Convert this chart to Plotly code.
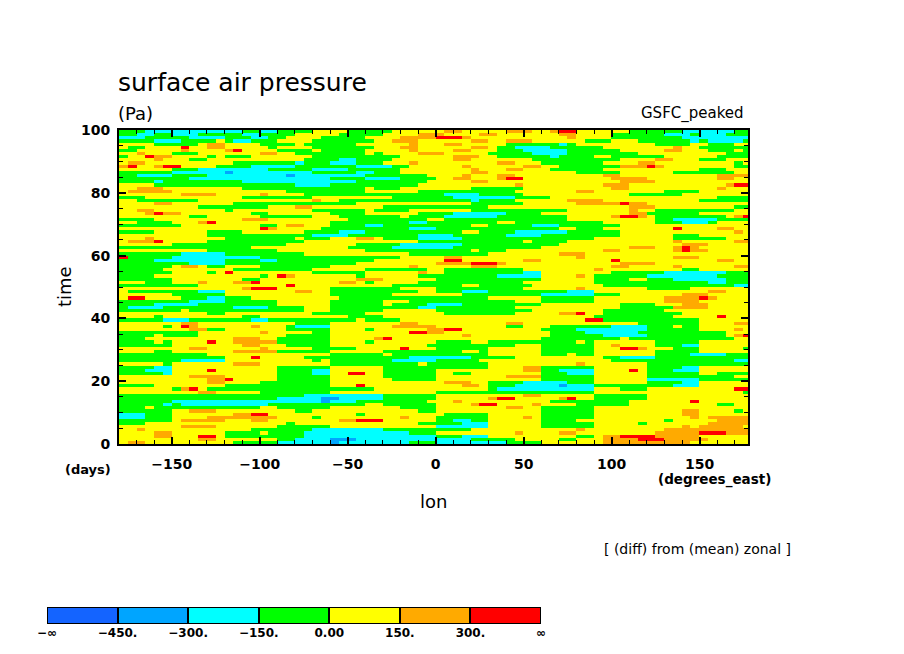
import plotly.graph_objects as go

# Binned surface-pressure anomaly (diff from zonal mean), one string per time row,
# listed from the top of the picture (t=99.5 days) down to t=0.5 days.
# Each character is a level index for 5-degree longitude bins from -180 to 180:
# 0:<-450  1:-450..-300  2:-300..-150  3:-150..0  4:0..150  5:150..300  6:>300
rows_top_down = [
    "333222 222222 223322 333344 443333 344444 455444 445554 456644 444433 333322 222233",
    "332233 222333 332233 334444 433333 444455 544445 544444 445544 443333 332223 222333",
    "222333 332222 333223 344443 333344 445555 666544 444444 444544 443333 333322 222222",
    "333322 233334 322333 444433 333334 455544 444455 445554 444443 334443 333332 322223",
    "444433 333455 444433 334333 333444 444544 455444 443333 332344 444444 433334 433344",
    "433444 464455 444443 444433 333334 445544 444455 433222 233333 344444 444544 333333",
    "334444 454444 564444 333343 333344 444544 445544 433322 222333 333444 445544 433343",
    "445444 333444 444455 443333 333343 444455 544444 333332 222333 333334 444444 444333",
    "344655 444434 333444 444433 333333 334444 445554 433333 323333 443333 334444 443333",
    "444454 443344 444444 444333 322333 344444 445544 444443 333333 333444 455444 333444",
    "455444 444444 433333 332333 222333 444544 444444 455444 333333 344445 544444 444434",
    "564456 644443 333222 223333 333222 233444 444544 444455 443333 333555 654444 444433",
    "444444 333222 222223 333322 223333 334444 444454 445544 433333 344444 444444 333444",
    "333333 222222 122222 222233 333223 334444 444455 444444 444433 333444 444333 333344",
    "332222 333322 222222 212222 222233 333334 444544 455444 444444 455444 444444 445555",
    "333333 332222 222222 222222 333322 223333 445544 456644 444444 445555 444444 445544",
    "333323 333333 332222 222222 222333 333334 444455 444444 444444 444555 544444 444444",
    "444433 333333 333333 332222 333333 333344 444444 444544 444444 455544 444444 444566",
    "445554 444444 443333 333333 333343 334444 444433 333344 444444 445544 444444 445444",
    "455555 444444 444444 433333 333344 444433 333333 333444 444455 444444 443333 444444",
    "444444 455554 444454 444333 333333 333333 322223 333344 444444 444433 333344 444444",
    "333444 444444 443333 333344 444444 433333 332222 222333 344444 444444 444444 443333",
    "443333 333444 444444 444454 433333 333333 333323 333444 444555 544444 444444 333333",
    "444455 444444 433333 333333 333444 444444 444433 333344 444455 555655 444444 444444",
    "444444 444333 333334 445544 444444 333333 333333 444444 444444 444455 544444 444433",
    "445544 444444 344444 444433 333343 333444 444433 333333 333444 444454 433333 333344",
    "444565 544444 444334 444444 333344 444433 332222 223333 444444 444455 333333 444444",
    "444444 443344 444433 333344 433333 334333 322222 233333 333444 445665 433333 333456",
    "333344 444444 445554 444444 443333 333334 433333 333333 333444 444444 433222 223333",
    "443333 444564 444444 444444 333333 333223 333333 344333 333333 344444 433322 234444",
    "333333 344444 444433 455444 333322 333333 333344 333332 223333 333444 444444 444444",
    "444444 444444 444465 444443 333333 333222 333333 333333 334433 344444 444644 445544",
    "333344 444433 334444 444333 322233 333333 333443 333222 222333 333444 444444 444454",
    "444444 444433 333333 333322 223333 333322 223333 332222 333333 333444 444333 444444",
    "444544 444444 333333 334333 444554 333322 222333 333333 333333 444444 444333 333444",
    "455564 444433 333333 333444 444444 444433 333333 333343 333444 444444 444544 444455",
    "444444 333333 333333 344444 444333 332222 222333 333333 334444 444444 444455 544444",
    "333333 333333 333444 444444 443333 322222 223333 333333 444444 444455 544565 444444",
    "444444 444433 333333 444444 444433 333333 333343 334444 444444 455444 444565 544444",
    "333333 322222 333333 333444 444444 444333 333333 444444 445554 444444 444444 444444",
    "633333 222222 222233 333333 333333 334444 455444 444444 444454 444444 444555 444444",
    "333322 222222 333322 333333 333334 444444 466444 444455 444444 446444 444444 445544",
    "333333 332222 333333 333333 333444 444444 555566 654444 444444 444555 544444 444444",
    "333333 455433 444433 333333 444444 444544 444455 544444 444444 445544 444544 444455",
    "333334 444444 433333 333344 444433 333334 433333 333344 444444 544444 444433 444444",
    "333333 444434 644444 444433 333344 444454 433333 333322 444444 443333 332222 222333",
    "333344 444444 444434 654444 444344 444433 333333 322222 444454 333333 222222 223333",
    "333333 444444 443344 444444 444555 444444 333333 333333 444444 333344 333222 222333",
    "444333 444544 455644 444444 455434 444433 333333 333344 444444 333333 333333 322333",
    "333333 333444 444444 464444 444444 433333 333443 333334 444444 433333 333333 333322",
    "444444 444444 445666 444444 333333 334444 333333 333344 444454 444444 333334 444444",
    "433333 333222 444444 445544 333333 333344 333222 333333 333222 444444 444444 455444",
    "444444 333333 444444 444444 333333 344444 444333 333333 222222 333444 444455 544444",
    "466444 433322 333444 444444 433333 333333 333333 444444 333333 444444 445555 654444",
    "333333 332222 333333 444444 333333 444333 333333 333444 333333 444444 445555 444444",
    "333322 222333 333333 444444 333333 433332 222333 333333 444444 444333 344455 544444",
    "322223 333333 322223 333444 333333 333322 333333 333444 444444 444333 333555 544444",
    "333333 343333 333333 333444 333333 444444 333333 333334 444444 433333 334444 444444",
    "444444 444433 444444 444433 333344 444444 433333 333444 445564 433333 333344 444444",
    "444434 444444 443344 444444 443333 444444 444444 444444 444444 333333 333444 446444",
    "333332 223333 333223 333333 333433 334444 444444 444444 444446 633333 333333 444444",
    "444444 455444 444444 443333 444444 445544 444444 445544 444444 444443 333333 444455",
    "444443 465444 444544 432222 444444 455555 444444 443344 433333 332222 333433 444444",
    "444444 445533 444444 433333 444434 444445 566444 444444 333322 222222 333333 444454",
    "333333 333444 444454 444433 444444 444665 544444 444444 433332 222223 333333 333444",
    "333343 333444 444444 433333 444444 444444 444544 444444 433333 322222 333333 333456",
    "333444 444444 455544 333333 444445 644444 444444 444444 333333 333433 333333 333344",
    "333343 444464 455555 333333 444434 444444 333344 333333 333343 444444 433333 444444",
    "333333 444444 445544 433333 444444 444443 333333 333444 333333 445444 433322 444444",
    "444444 445544 444454 444433 333444 446444 333333 444444 333333 444665 444333 444443",
    "444433 444444 455555 333333 444444 333333 333443 444444 333333 444444 433333 444444",
    "333333 333344 444444 444444 333333 433333 333333 444444 333433 444444 433332 222333",
    "333333 333333 444644 444333 333333 333222 222233 333444 444444 433222 233333 333333",
    "333333 322222 444444 444434 333333 322222 333334 444444 444444 443333 333333 333322",
    "444443 444444 455544 444444 333333 333343 333333 444444 444454 444444 333333 333333",
    "333322 444444 444444 333333 444444 333333 333333 444455 333333 444444 333322 444444",
    "333222 444464 444444 333322 444444 333333 444444 444455 332222 444464 333222 444444",
    "333332 444444 444444 333322 446644 333333 443344 444444 333222 444444 333333 443333",
    "444444 445555 444444 333333 444444 333333 444444 445555 333333 444444 333333 333344",
    "444444 444455 644444 333333 444444 433333 444444 444444 333333 444444 222222 333333",
    "444444 444455 444433 333333 444444 444444 455544 333322 222333 444444 333322 444444",
    "333344 444444 333333 333333 444644 444444 444554 333222 221222 333333 333222 444444",
    "444444 356433 333333 333333 333334 444444 444444 322222 222222 444333 444444 444466",
    "444444 444554 444433 333333 444444 444444 333333 333333 333333 444444 444444 444443",
    "333333 333333 333333 333222 222222 333333 444444 444455 444444 333333 444444 444444",
    "333333 333333 333333 222221 122222 333333 444444 566444 445644 333333 444444 444444",
    "333333 222222 222222 222221 222333 333334 445444 444444 433333 333344 444446 444444",
    "333332 322222 222223 333333 333344 333333 444456 644445 444433 333344 444444 443344",
    "333433 333333 333344 333333 444444 443333 444444 445544 333333 444444 444444 444444",
    "333333 445554 444444 443344 444444 444433 444444 444444 333333 444444 444455 444434",
    "222333 444444 455664 444444 444344 444444 433333 444444 333333 444444 444455 444444",
    "222333 444455 555555 444434 444444 445444 333333 444454 333333 444444 444445 455555",
    "333333 455555 444554 444444 455666 444444 332233 444444 333344 444444 443444 445555",
    "333444 444444 444444 434444 444444 444433 333222 444444 333333 444443 444444 455555",
    "444444 455554 444444 333333 444444 444444 222222 444444 333333 444444 444454 555554",
    "445444 444444 444333 333322 222222 333333 333344 444444 444454 444444 445555 555555",
    "444455 444444 333343 333222 222222 222333 444444 444544 445544 444444 455555 666555",
    "444455 444664 333333 333222 222222 222222 333222 444444 444433 455666 655555 444444",
    "444444 444554 444444 332222 111222 222222 222233 333444 443344 455556 665555 544444",
    "455444 444444 433333 222222 122222 222333 222222 223333 444444 455555 555554 444444",
]

time_days = [99.5 - i for i in range(len(rows_top_down))]
lon_centers = [-177.5 + 5 * i for i in range(72)]

level_colors = ["#1464ff", "#00a5ff", "#00ffff", "#00ff00", "#ffff00", "#ffaa00", "#ff0000"]
level_labels = ["\u2212\u221e", "\u2212450.", "\u2212300.", "\u2212150.", "0.00", "150.", "300.", "\u221e"]

z = []
for r in rows_top_down:
    s = r.replace(" ", "")
    assert len(s) == 72, (r, len(s))
    z.append([int(ch) for ch in s])

n = len(level_colors)
cscale = []
for i, c in enumerate(level_colors):
    cscale.append([i / n, c])
    cscale.append([(i + 1) / n, c])

fig = go.Figure()
fig.add_trace(go.Heatmap(
    x=lon_centers, y=time_days, z=z,
    zmin=-0.5, zmax=n - 0.5, colorscale=cscale, showscale=False,
    hoverinfo="skip", xaxis="x", yaxis="y",
))

# colour key drawn as a row of boxes
fig.add_trace(go.Bar(
    x=list(range(n)), y=[1] * n, width=[1] * n,
    marker=dict(color=level_colors, line=dict(color="black", width=2)),
    xaxis="x2", yaxis="y2", hoverinfo="skip", showlegend=False,
))

W, H = 904, 654
OFF = 8  # page body margin in the browser
def px(v):
    return (v - OFF) / W
def py(v):
    return 1 - (v - OFF) / H

tickfont = dict(family="DejaVu Sans", size=14, color="black", weight="bold")

fig.update_layout(
    width=W, height=H,
    margin=dict(l=0, r=0, t=0, b=0, autoexpand=False),
    paper_bgcolor="white", plot_bgcolor="white",
    showlegend=False, bargap=0,
    xaxis=dict(
        domain=[px(119), px(748)], range=[-180, 177.5],
        tickvals=[-150, -100, -50, 0, 50, 100, 150],
        ticks="inside", ticklen=7, tickwidth=2, tickcolor="black",
        minor=dict(dtick=10, tick0=0, ticks="inside", ticklen=4, tickwidth=1, tickcolor="black"),
        showline=True, linecolor="black", linewidth=2, mirror="ticks",
        showgrid=False, zeroline=False, tickfont=tickfont, ticklabelstandoff=6,
        anchor="y", automargin=False,
    ),
    yaxis=dict(
        domain=[py(444), py(130)], range=[0, 100],
        tickvals=[0, 20, 40, 60, 80, 100],
        ticks="inside", ticklen=7, tickwidth=2, tickcolor="black",
        minor=dict(dtick=5, tick0=0, ticks="inside", ticklen=4, tickwidth=1, tickcolor="black"),
        showline=True, linecolor="black", linewidth=2, mirror="ticks",
        showgrid=False, zeroline=False, tickfont=tickfont, ticklabelstandoff=4,
        anchor="x", automargin=False,
    ),
    xaxis2=dict(
        domain=[px(47), px(541)], range=[-0.5, n - 0.5],
        tickvals=[i - 0.5 for i in range(n + 1)], ticktext=level_labels,
        ticks="", showline=False, showgrid=False, zeroline=False,
        tickfont=dict(family="DejaVu Sans", size=12, color="black", weight="bold"),
        anchor="y2", fixedrange=True, automargin=False,
    ),
    yaxis2=dict(
        domain=[py(624), py(607)], range=[0, 1],
        visible=False, anchor="x2", fixedrange=True, automargin=False,
    ),
)

def note(text, x, y, size, xanchor="center", textangle=0, bold=False, family="DejaVu Sans"):
    fig.add_annotation(
        text=text, x=px(x), y=py(y), xref="paper", yref="paper",
        xanchor=xanchor, yanchor="middle", showarrow=False, textangle=textangle,
        font=dict(family=family, size=size, color="black", weight="bold" if bold else "normal"),
    )

note("surface air pressure", 116, 82, 25, xanchor="left")
note("(Pa)", 116, 113, 18, xanchor="left")
note("GSFC_peaked", 746, 113, 15, xanchor="right")
note("time", 64, 287, 18, textangle=-90)
note("(days)", 88, 469, 13, bold=True)
note("lon", 433, 502, 18)
note("(degrees_east)", 714, 479, 13.5, bold=True)
note("[ (diff) from (mean) zonal ]", 697, 549, 14)

fig.write_html("out.html")
